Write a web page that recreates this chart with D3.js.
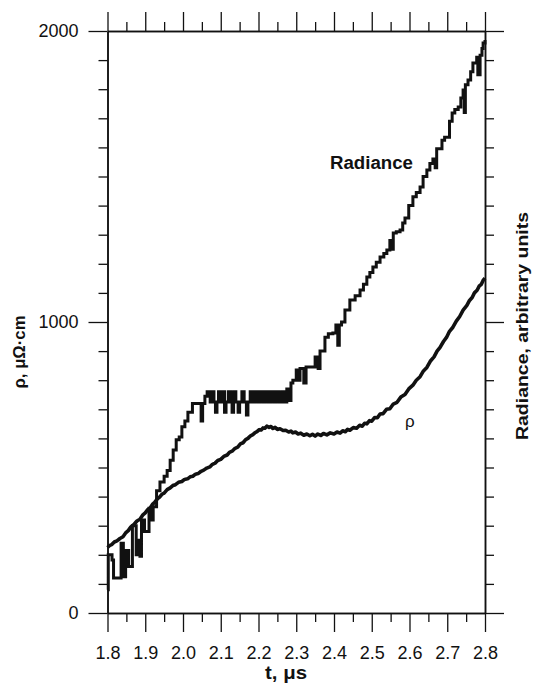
<!DOCTYPE html>
<html>
<head>
<meta charset="utf-8">
<script src="https://cdn.jsdelivr.net/npm/d3@7"></script>
<style>
  body { margin: 0; background: #fff; }
  svg { display: block; font-family: "Liberation Sans", Arial, sans-serif; }
</style>
</head>
<body>
<div id="chart"></div>
<script>
// resistivity curve, t in us, rho in uOhm cm
var rhoT = [1.800, 1.806, 1.812, 1.818, 1.825, 1.833, 1.841, 1.848, 1.855, 1.862, 1.870, 1.878, 1.886, 1.893, 1.900,
            1.907, 1.913, 1.919, 1.925, 1.932, 1.938, 1.944, 1.950, 1.958, 1.966, 1.973, 1.980, 1.988, 1.997, 2.004,
            2.012, 2.019, 2.026, 2.033, 2.040, 2.048, 2.055, 2.063, 2.071, 2.078, 2.085, 2.092, 2.100, 2.108, 2.117,
            2.123, 2.130, 2.138, 2.145, 2.152, 2.159, 2.166, 2.172, 2.179, 2.185, 2.191, 2.196, 2.202, 2.207, 2.212,
            2.217, 2.222, 2.228, 2.233, 2.238, 2.244, 2.250, 2.257, 2.265, 2.272, 2.280, 2.286, 2.291, 2.298, 2.305,
            2.312, 2.320, 2.328, 2.336, 2.343, 2.350, 2.357, 2.365, 2.372, 2.381, 2.390, 2.400, 2.408, 2.416, 2.423,
            2.430, 2.436, 2.442, 2.451, 2.460, 2.468, 2.475, 2.481, 2.487, 2.494, 2.500, 2.508, 2.515, 2.522, 2.530,
            2.539, 2.548, 2.557, 2.567, 2.577, 2.588, 2.598, 2.609, 2.618, 2.628, 2.637, 2.646, 2.655, 2.665, 2.673,
            2.681, 2.690, 2.698, 2.706, 2.715, 2.724, 2.733, 2.742, 2.752, 2.759, 2.766, 2.772, 2.779, 2.785, 2.790,
            2.795, 2.800];
var rhoV = [225, 232, 236, 244, 248, 256, 262, 275, 283, 296, 304, 316, 322, 336, 344,
            356, 361, 373, 380, 392, 398, 408, 412, 424, 430, 438, 441, 449, 452, 459,
            461, 468, 470, 477, 479, 487, 491, 498, 502, 511, 515, 524, 528, 538, 543,
            552, 556, 566, 570, 581, 585, 596, 600, 609, 613, 620, 623, 630, 629, 636,
            635, 642, 638, 641, 634, 638, 631, 633, 627, 628, 622, 625, 619, 622, 615,
            618, 611, 615, 609, 614, 608, 615, 610, 617, 612, 619, 615, 622, 618, 626,
            623, 631, 628, 637, 635, 645, 642, 652, 650, 661, 659, 672, 671, 684, 685,
            700, 702, 718, 724, 742, 751, 770, 783, 800, 812, 832, 844, 865, 880, 900,
            913, 933, 947, 968, 982, 1003, 1019, 1041, 1057, 1074, 1084, 1100, 1109, 1124, 1129,
            1143, 1151];

// radiance (arbitrary units), stepped signal
var radT = [1.800, 1.802, 1.812, 1.816, 1.836, 1.842, 1.848, 1.856, 1.866, 1.876, 1.882, 1.886, 1.890, 1.898, 1.910,
            1.916, 1.921, 1.930, 1.939, 1.950, 1.958, 1.966, 1.974, 1.982, 1.990, 1.997, 2.005, 2.013, 2.025, 2.045,
            2.048, 2.052, 2.058, 2.064, 2.072, 2.076, 2.082, 2.086, 2.090, 2.094, 2.100, 2.106, 2.110, 2.114, 2.120,
            2.126, 2.130, 2.134, 2.140, 2.146, 2.150, 2.156, 2.162, 2.168, 2.172, 2.178, 2.184, 2.190, 2.198, 2.204,
            2.212, 2.218, 2.226, 2.232, 2.240, 2.246, 2.254, 2.262, 2.268, 2.275, 2.282, 2.286, 2.291, 2.300, 2.306,
            2.310, 2.320, 2.326, 2.340, 2.350, 2.358, 2.363, 2.376, 2.385, 2.397, 2.405, 2.410, 2.414, 2.420, 2.429,
            2.442, 2.456, 2.469, 2.478, 2.487, 2.495, 2.503, 2.512, 2.522, 2.532, 2.540, 2.548, 2.553, 2.557, 2.565,
            2.575, 2.582, 2.588, 2.598, 2.609, 2.618, 2.628, 2.636, 2.646, 2.654, 2.662, 2.668, 2.672, 2.686, 2.693,
            2.706, 2.713, 2.720, 2.729, 2.736, 2.742, 2.745, 2.748, 2.755, 2.762, 2.768, 2.778, 2.781, 2.787, 2.792,
            2.795, 2.800];
var radV = [80, 200, 182, 120, 240, 125, 215, 160, 300, 200, 250, 195, 320, 280, 360,
            320, 365, 420, 450, 470, 490, 525, 560, 595, 605, 640, 660, 690, 720, 720,
            660, 720, 745, 760, 725, 760, 725, 690, 725, 760, 725, 760, 690, 725, 760,
            725, 690, 760, 725, 690, 725, 760, 725, 680, 725, 760, 725, 760, 725, 760,
            725, 760, 725, 760, 725, 760, 725, 760, 725, 770, 730, 790, 800, 835, 800,
            840, 790, 845, 845, 880, 840, 900, 948, 960, 962, 990, 920, 990, 1000, 1041,
            1076, 1090, 1110, 1130, 1155, 1170, 1189, 1205, 1223, 1235, 1247, 1280, 1250, 1306, 1310,
            1316, 1340, 1357, 1400, 1430, 1445, 1464, 1500, 1522, 1545, 1560, 1530, 1595, 1625, 1635,
            1690, 1718, 1730, 1739, 1770, 1797, 1720, 1815, 1832, 1860, 1890, 1910, 1850, 1917, 1940,
            1959, 1969];

var xTicks = [1.8, 1.9, 2.0, 2.1, 2.2, 2.3, 2.4, 2.5, 2.6, 2.7, 2.8];
var yTicks = [0, 1000, 2000];

var width = 535, height = 683;
var plotLeft = 107.5, plotRight = 485, plotTop = 31, plotBottom = 613;
var ink = "#111";

var svg = d3.select("#chart").append("svg")
    .attr("width", width)
    .attr("height", height);

var x = d3.scaleLinear().domain([1.8, 2.8]).range([plotLeft, plotRight]);
var y = d3.scaleLinear().domain([0, 2000]).range([plotBottom, plotTop]);
// radiance is in arbitrary units on its own (unlabelled) right axis
var yRad = d3.scaleLinear().domain([0, 2000]).range([plotBottom, plotTop]);

var minorX = d3.range(1.8, 2.8001, 0.05).filter(function (d) { return Math.abs(d * 10 - Math.round(d * 10)) > 0.01; });
var minorY = d3.range(0, 2001, 100).filter(function (d) { return d % 1000 != 0; });

function styleAxis(g) {
    g.selectAll("path.domain").attr("stroke", ink).attr("stroke-width", 1.5);
    g.selectAll(".tick line").attr("stroke", ink).attr("stroke-width", 1.3);
    g.selectAll(".tick text").attr("fill", ink).style("font-size", "18px")
        .style("font-family", "'Liberation Sans', Arial, sans-serif");
}

// bottom
svg.append("g").attr("transform", "translate(0," + plotBottom + ")")
    .call(d3.axisBottom(x).tickValues(minorX).tickSize(9).tickSizeOuter(0).tickFormat(""))
    .call(styleAxis);
svg.append("g").attr("transform", "translate(0," + plotBottom + ")")
    .call(d3.axisBottom(x).tickValues(xTicks).tickSize(19).tickSizeOuter(0).tickPadding(14).tickFormat(d3.format(".1f")))
    .call(styleAxis);
// top
svg.append("g").attr("transform", "translate(0," + plotTop + ")")
    .call(d3.axisTop(x).tickValues(minorX).tickSize(9).tickSizeOuter(0).tickFormat(""))
    .call(styleAxis);
svg.append("g").attr("transform", "translate(0," + plotTop + ")")
    .call(d3.axisTop(x).tickValues(xTicks).tickSize(19).tickSizeOuter(0).tickFormat(""))
    .call(styleAxis);
// left
svg.append("g").attr("transform", "translate(" + plotLeft + ",0)")
    .call(d3.axisLeft(y).tickValues(minorY).tickSize(9).tickSizeOuter(0).tickFormat(""))
    .call(styleAxis);
svg.append("g").attr("transform", "translate(" + plotLeft + ",0)")
    .call(d3.axisLeft(y).tickValues(yTicks).tickSize(19).tickSizeOuter(0).tickPadding(10).tickFormat(d3.format("d")))
    .call(styleAxis);
// right
svg.append("g").attr("transform", "translate(" + plotRight + ",0)")
    .call(d3.axisRight(yRad).tickValues(minorY).tickSize(9).tickSizeOuter(0).tickFormat(""))
    .call(styleAxis);
svg.append("g").attr("transform", "translate(" + plotRight + ",0)")
    .call(d3.axisRight(yRad).tickValues(yTicks).tickSize(19).tickSizeOuter(0).tickFormat(""))
    .call(styleAxis);

// curves
var rhoData = rhoT.map(function (t, i) { return [t, rhoV[i]]; });
var radData = radT.map(function (t, i) { return [t, radV[i]]; });

svg.append("path")
    .datum(rhoData)
    .attr("fill", "none")
    .attr("stroke", ink)
    .attr("stroke-width", 3.6)
    .attr("stroke-linejoin", "round")
    .attr("d", d3.line().x(function (d) { return x(d[0]); }).y(function (d) { return y(d[1]); }));

svg.append("path")
    .datum(radData)
    .attr("fill", "none")
    .attr("stroke", ink)
    .attr("stroke-width", 3)
    .attr("d", d3.line().curve(d3.curveStepAfter)
        .x(function (d) { return x(d[0]); }).y(function (d) { return yRad(d[1]); }));

// labels
svg.append("text")
    .attr("x", 330).attr("y", 169)
    .attr("textLength", 83).attr("lengthAdjust", "spacingAndGlyphs")
    .style("font-size", "18px").style("font-weight", "bold").attr("fill", ink)
    .text("Radiance");

svg.append("text")
    .attr("x", 405).attr("y", 427)
    .style("font-size", "17px").attr("fill", ink)
    .text("ρ");

svg.append("text")
    .attr("x", 307).attr("y", 679)
    .attr("text-anchor", "end")
    .attr("textLength", 42).attr("lengthAdjust", "spacingAndGlyphs")
    .style("font-size", "18px").style("font-weight", "bold").attr("fill", ink)
    .text("t, μs");

svg.append("text")
    .attr("transform", "translate(25,352) rotate(-90)")
    .attr("text-anchor", "middle")
    .attr("textLength", 73).attr("lengthAdjust", "spacingAndGlyphs")
    .style("font-size", "17px").style("font-weight", "bold").attr("fill", ink)
    .text("ρ, μΩ·cm");

svg.append("text")
    .attr("transform", "translate(528,326) rotate(-90)")
    .attr("text-anchor", "middle")
    .attr("textLength", 228).attr("lengthAdjust", "spacingAndGlyphs")
    .style("font-size", "17px").style("font-weight", "bold").attr("fill", ink)
    .text("Radiance, arbitrary units");
</script>
</body>
</html>
